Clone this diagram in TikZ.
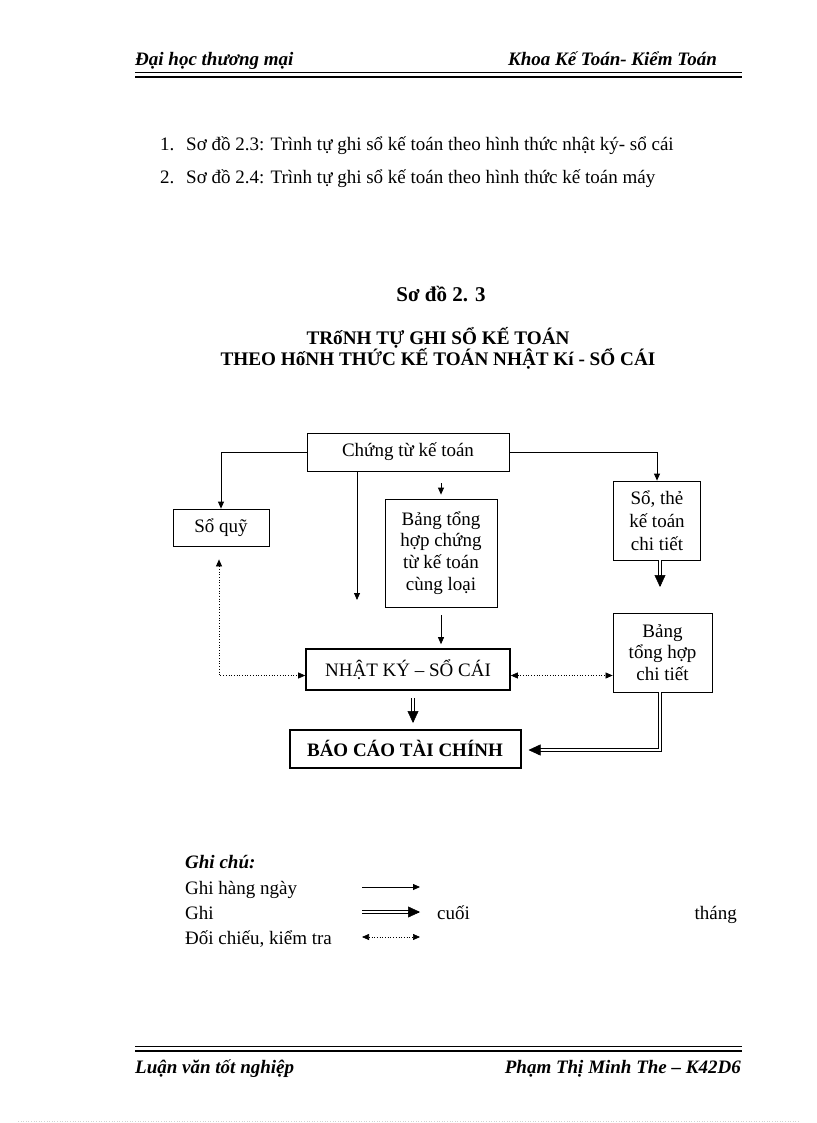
\documentclass[tikz,border=0pt]{standalone}
\usepackage{fontspec}
\setmainfont{Liberation Serif}
\usetikzlibrary{arrows.meta,calc}
\begin{document}
\begin{tikzpicture}[x=1pt,y=-1pt,
 box/.style={draw, line width=0.8pt, align=center, inner sep=0pt, font=\fontsize{19}{21.7}\selectfont},
 txt/.style={inner sep=0pt, font=\fontsize{19}{22}\selectfont},
 bi/.style={txt, font=\fontsize{19}{22}\selectfont\bfseries\itshape},
 bt/.style={txt, font=\fontsize{19.2}{22}\selectfont\bfseries},
 arr/.style={-{Triangle[length=7pt,width=6pt]}, line width=0.8pt},
 dotarr/.style={{Triangle[length=7pt,width=6pt]}-{Triangle[length=7pt,width=6pt]}, dotted, line width=0.7pt},
 dbl/.style={draw=black, double=white, double distance=1.8pt, line width=0.9pt, shorten >=10pt},
 dtip/.style={-{Triangle[length=12pt,width=11pt]}, line width=0.5pt}
]
\useasboundingbox (0,0) rectangle (816,1123);
% header
\node[bi, anchor=base west] (h1) at (135,66) {Đại học thương mại};
\node[bi, anchor=base east] (h2) at (717,66) {Khoa Kế Toán- Kiểm Toán};
\draw[line width=0.8pt] (135,72) -- (742,72);
\draw[line width=2.5pt] (135,77) -- (742,77);
% list
\node[txt, anchor=base west] (l1n) at (160,151) {1.};
\node[txt, anchor=base west] (l1) at (186,151) {Sơ đồ 2.3: Trình tự ghi sổ kế toán theo hình thức nhật ký- sổ cái};
\node[txt, anchor=base west] (l2n) at (160,184) {2.};
\node[txt, anchor=base west] (l2) at (186,184) {Sơ đồ 2.4: Trình tự ghi sổ kế toán theo hình thức kế toán máy};
% titles
\node[bt, anchor=base, font=\fontsize{21}{24}\selectfont\bfseries] (t0) at (441,301) {Sơ đồ 2. 3};
\node[bt, anchor=base] (t1) at (438,344) {TRốNH TỰ GHI SỔ KẾ TOÁN};
\node[bt, anchor=base] (t2) at (438,365) {THEO HốNH THỨC KẾ TOÁN NHẬT Kí - SỔ CÁI};
% diagram nodes
\node[box, minimum width=202, minimum height=38] (ct) at (408,452) {Chứng từ kế toán};
\node[box, minimum width=96, minimum height=37] (sq) at (221,527.5) {Sổ quỹ};
\node[box, minimum width=112, minimum height=108] (btg) at (441,553) {Bảng tổng\\hợp chứng\\từ kế toán\\cùng loại};
\node[box, minimum width=87, minimum height=79, font=\fontsize{19}{23}\selectfont] (st) at (657,520.5) {Sổ, thẻ\\kế toán\\chi tiết};
\node[box, minimum width=99, minimum height=79] (btct) at (662.5,652.5) {Bảng\\tổng hợp\\chi tiết};
\node[box, line width=1.6pt, minimum width=204, minimum height=41] (nk) at (408,669.5) {NHẬT KÝ – SỔ CÁI};
\node[box, line width=2pt, minimum width=231, minimum height=38, font=\fontsize{19}{22}\selectfont\bfseries] (bc) at (405,748.5) {BÁO CÁO TÀI CHÍNH};
% connectors
\draw[arr] (ct.west) -| (sq.north);
\coordinate (free1) at (357,600);
\draw[arr] (ct.south -| free1) -- (free1);
\draw[arr, shorten <=12pt, shorten >=4pt] (ct.south -| btg.north) -- (btg.north);
\draw[arr] (ct.east) -| (st.north);
\coordinate (free2) at (660,587);
\draw[dbl] (st.south -| free2) -- (free2);
\draw[dtip] ($(free2)+(0,-1)$) -- (free2);
\draw[arr, shorten <=8pt, shorten >=4pt] (btg.south) -- (btg.south |- nk.north);
\coordinate (tp1) at (413,723);
\draw[dbl, shorten <=7pt] (nk.south -| tp1) -- (tp1);
\draw[dtip] ($(tp1)+(0,-1)$) -- (tp1);
\coordinate (tp2) at ([xshift=7pt,yshift=-1.5pt]bc.east);
\draw[dbl] (btct.south -| 660,0) |- (tp2);
\draw[dtip] ($(tp2)+(1,0)$) -- (tp2);
\draw[dotarr, shorten <=13pt] (sq.south -| 219,0) |- ([yshift=-6pt]nk.west);
\draw[dotarr] ([yshift=-6pt]nk.east) -- ([yshift=-6pt]nk.east -| btct.west);
% legend
\node[bi, anchor=base west] (gc) at (185,868) {Ghi chú:};
\node[txt, anchor=base west] (g1) at (185,894) {Ghi hàng ngày};
\node[txt, anchor=base west] (g2) at (185,919) {Ghi};
\node[txt, anchor=base west] (g2b) at (437,919) {cuối};
\node[txt, anchor=base east] (g2c) at (737,919) {tháng};
\node[txt, anchor=base west] (g3) at (185,944) {Đối chiếu, kiểm tra};
\coordinate (la1) at (362,887); \coordinate (la2) at (420,887);
\draw[arr] (la1) -- (la2);
\coordinate (lb1) at (362,912); \coordinate (lb2) at (420,912);
\draw[dbl] (lb1) -- (lb2);
\draw[dtip] ($(lb2)+(-1,0)$) -- (lb2);
\coordinate (lc1) at (362,937); \coordinate (lc2) at (420,937);
\draw[dotarr] (lc1) -- (lc2);
% footer
\draw[line width=0.8pt] (135,1046) -- (742,1046);
\draw[line width=2.5pt] (135,1051) -- (742,1051);
\node[bi, anchor=base west] (f1) at (135,1073) {Luận văn tốt nghiệp};
\node[bi, anchor=base east] (f2) at (741,1073) {Phạm Thị Minh The – K42D6};
\draw[gray!35, dotted, line width=0.6pt] (18,1121) -- (800,1121);
\end{tikzpicture}
\end{document}
